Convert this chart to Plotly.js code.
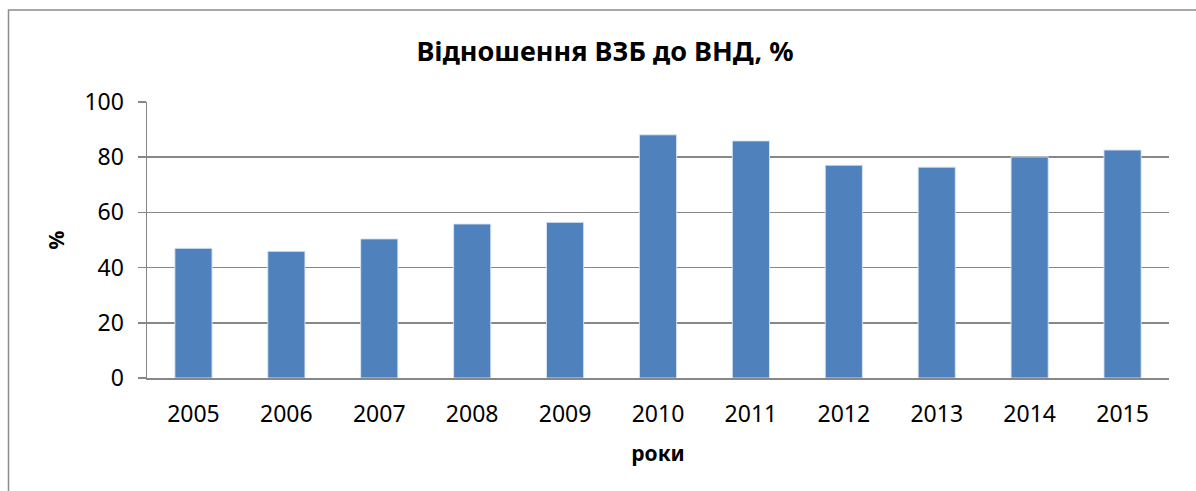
<!DOCTYPE html>
<html>
<head>
<meta charset="utf-8">
<script src="https://cdn.plot.ly/plotly-3.0.1.min.js"></script>
<style>html,body{margin:0;padding:0;background:#fff;}#chart{width:1196px;height:491px;}</style>
</head>
<body>
<div id="chart"></div>
<script>
const years = ["2005","2006","2007","2008","2009","2010","2011","2012","2013","2014","2015"];
const ratio = [47.0, 45.9, 50.4, 55.8, 56.4, 88.1, 85.9, 77.1, 76.4, 80.1, 82.6];
const yTicks = [0, 20, 40, 60, 80, 100];

const FONT = "Noto Sans, Open Sans, DejaVu Sans, sans-serif";
const gridCol = "#878787";

const trace = {
  type: "bar",
  x: years,
  y: ratio,
  marker: {color: "#4f81bd", line: {color: "rgba(220,230,245,0.9)", width: 1}},
  hoverinfo: "x+y"
};

const L = 147, R = 27, T = 102, B = 113, W = 1196, H = 491;
const pw = W - L - R, ph = H - T - B;
function px2x(p){ return (p - L) / pw; }
function py2y(p){ return (H - B - p) / ph; }

const layout = {
  width: W, height: H,
  margin: {l: L, r: R, t: T, b: B, pad: 0},
  paper_bgcolor: "#fff", plot_bgcolor: "#fff",
  showlegend: false,
  bargap: 0.6,
  font: {family: FONT, color: "#000"},
  title: {
    text: "<b>Відношення ВЗБ до ВНД, %</b>",
    font: {family: FONT, size: 27, color: "#000"},
    x: 605 / W, xref: "container", xanchor: "center",
    y: 1 - 52 / H, yref: "container", yanchor: "middle"
  },
  xaxis: {
    type: "category",
    showline: true, linecolor: gridCol, linewidth: 1.5,
    ticks: "", showgrid: false,
    tickfont: {family: FONT, size: 23, color: "#000"},
    ticklabelstandoff: 15,
    title: {text: "<b>роки</b>", font: {family: FONT, size: 21, color: "#000"}, standoff: 18},
    fixedrange: true
  },
  yaxis: {
    range: [0, 100],
    tickvals: yTicks,
    ticktext: yTicks.map(String),
    showline: true, linecolor: gridCol, linewidth: 1.5,
    ticks: "outside", ticklen: 8, tickcolor: gridCol, tickwidth: 1.5,
    showgrid: true, gridcolor: gridCol, gridwidth: 1.5,
    zeroline: false,
    tickfont: {family: FONT, size: 23, color: "#000"},
    ticklabelstandoff: 9,
    title: {text: "<b>%</b>", font: {family: FONT, size: 21, color: "#000"}, standoff: 14},
    fixedrange: true
  },
  shapes: [{
    type: "rect", xref: "paper", yref: "paper",
    x0: px2x(8.5), x1: px2x(1210), y0: py2y(510), y1: py2y(10),
    line: {color: "#8c8c8c", width: 1.5}, fillcolor: "rgba(0,0,0,0)", layer: "below"
  }]
};

Plotly.newPlot("chart", [trace], layout, {displayModeBar: false, staticPlot: true});
</script>
</body>
</html>
